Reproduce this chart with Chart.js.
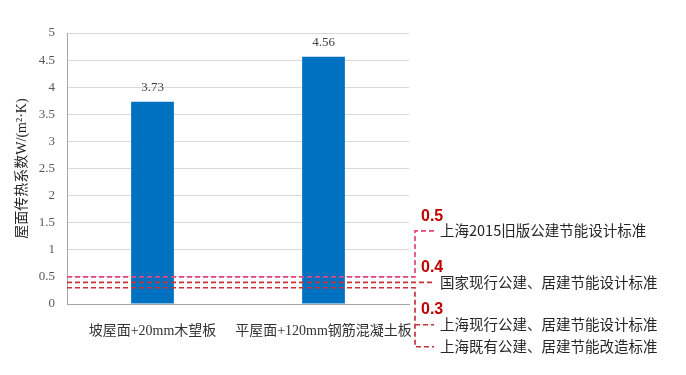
<!DOCTYPE html>
<html>
<head>
<meta charset="utf-8">
<script src="https://cdn.jsdelivr.net/npm/chart.js@4.4.0/dist/chart.umd.min.js"></script>
<style>
  html, body { margin: 0; padding: 0; background: #fff; }
  #wrap { width: 686px; height: 375px; }
</style>
</head>
<body>
<div id="wrap"><canvas id="myChart" width="686" height="375"></canvas></div>
<script>
var categories = ['坡屋面+20mm木望板', '平屋面+120mm钢筋混凝土板'];
var uValues = [3.73, 4.56];
var yTicks = [0, 0.5, 1, 1.5, 2, 2.5, 3, 3.5, 4, 4.5, 5];

// standard limits shown as dashed lines
var stdLevels = [0.5, 0.4, 0.3];
var stdColors = ['#e8457f', '#c8323a', '#c8323a'];
var stdNames = [
    ['上海2015旧版公建节能设计标准'],
    ['国家现行公建、居建节能设计标准'],
    ['上海现行公建、居建节能设计标准', '上海既有公建、居建节能改造标准']
];

var serif = '"Liberation Serif", "Noto Sans CJK SC", serif';
var sans = '"Noto Sans CJK SC", sans-serif';

var extras = {
    id: 'extras',
    afterDatasetsDraw: function(chart) {
        var ctx = chart.ctx;
        var y = chart.scales.y;
        var area = chart.chartArea;
        var meta = chart.getDatasetMeta(0);

        // value labels
        ctx.save();
        ctx.font = '13px ' + serif;
        ctx.fillStyle = '#404040';
        ctx.textAlign = 'center';
        ctx.textBaseline = 'middle';
        meta.data.forEach(function(bar, i) {
            ctx.fillText(uValues[i].toFixed(2), bar.x, bar.y - 14);
        });
        ctx.restore();

        var bx = area.right + 6;
        var tx = area.right + 31;
        ctx.save();
        ctx.lineWidth = 1.7;
        ctx.setLineDash([5, 3]);
        stdLevels.forEach(function(v, i) {
            var py = y.getPixelForValue(v);
            ctx.strokeStyle = stdColors[i];
            ctx.beginPath();
            if (i === 0) {
                ctx.moveTo(area.left, py);
                ctx.lineTo(bx, py);
                ctx.lineTo(bx, py - 46);
                ctx.lineTo(tx - 6, py - 46);
            } else if (i === 1) {
                ctx.moveTo(area.left, py);
                ctx.lineTo(tx - 6, py);
            } else {
                ctx.moveTo(area.left, py);
                ctx.lineTo(bx, py);
                ctx.lineTo(bx, py + 59);
                ctx.lineTo(tx - 6, py + 59);
                ctx.moveTo(bx, py + 37);
                ctx.lineTo(tx - 6, py + 37);
            }
            ctx.stroke();
        });
        ctx.setLineDash([]);

        ctx.textBaseline = 'middle';
        ctx.textAlign = 'left';
        stdLevels.forEach(function(v, i) {
            var py = y.getPixelForValue(v);
            var rows, numY;
            if (i === 0) { rows = [py - 46]; numY = py - 60; }
            else if (i === 1) { rows = [py]; numY = py - 15; }
            else { rows = [py + 37, py + 59]; numY = py + 22; }
            ctx.font = 'bold 16px "Liberation Sans", Arial, sans-serif';
            ctx.fillStyle = '#c00000';
            ctx.fillText(String(v), area.right + 12, numY);
            ctx.font = '14.5px ' + sans;
            ctx.fillStyle = '#262626';
            stdNames[i].forEach(function(name, k) {
                ctx.fillText(name, tx, rows[k]);
            });
        });
        ctx.restore();
    }
};

new Chart(document.getElementById('myChart'), {
    type: 'bar',
    data: {
        labels: categories,
        datasets: [{
            data: uValues,
            backgroundColor: '#0070c0',
            barPercentage: 0.5,
            categoryPercentage: 0.5
        }]
    },
    options: {
        responsive: false,
        animation: false,
        layout: { padding: { top: 33, right: 277, left: 0, bottom: 0 } },
        plugins: { legend: { display: false }, tooltip: { enabled: false } },
        scales: {
            x: {
                grid: { display: false },
                border: { color: '#a6a6a6' },
                ticks: {
                    color: '#333', padding: 11, maxRotation: 0, minRotation: 0, autoSkip: false,
                    font: { family: serif, size: 14 }
                },
                afterFit: function(s) { s.height = 71; }
            },
            y: {
                min: 0, max: 5,
                afterBuildTicks: function(s) { s.ticks = yTicks.map(function(v) { return { value: v }; }); },
                grid: { color: '#d9d9d9', drawTicks: false },
                border: { color: '#a6a6a6' },
                ticks: {
                    color: '#595959', padding: 12,
                    font: { family: serif, size: 13 },
                    callback: function(v) { return String(v); }
                },
                title: {
                    display: true,
                    text: '屋面传热系数W/(m²·K)',
                    color: '#262626',
                    font: { family: serif, size: 14 },
                    padding: { top: 14, bottom: 0 }
                },
                afterFit: function(s) { s.width = 67; }
            }
        }
    },
    plugins: [extras]
});
</script>
</body>
</html>
